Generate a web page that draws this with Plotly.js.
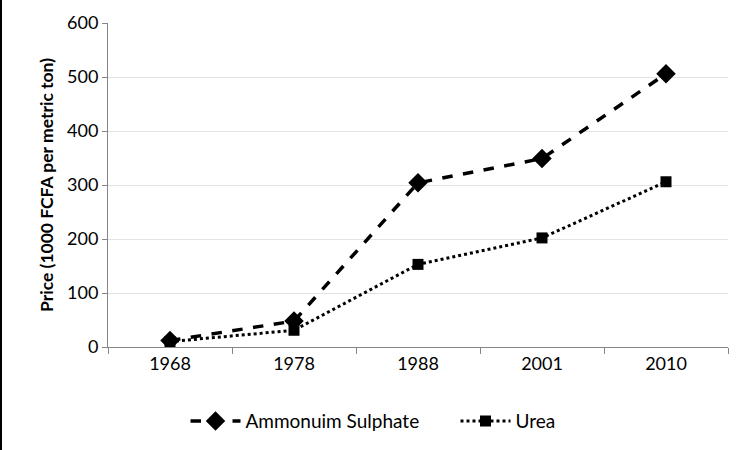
<!DOCTYPE html>
<html>
<head>
<meta charset="utf-8">
<script src="https://cdn.plot.ly/plotly-3.0.1.min.js"></script>
<style>
  body { margin: 0; background: #fff; }
  #chart { width: 751px; height: 450px; }
  #edge { position: absolute; left: 0; top: 0; width: 2px; height: 450px; background: #000; }
</style>
</head>
<body>
<div id="chart"></div>
<div id="edge"></div>
<script>
// fertiliser prices, 1000 FCFA per metric ton
const years = ["1968", "1978", "1988", "2001", "2010"];
const ammoniumSulphate = [12, 48, 304, 349, 506];
const urea = [10, 31, 153, 202, 306];
const yTicks = [0, 100, 200, 300, 400, 500, 600];

const data = [
  {
    x: years,
    y: ammoniumSulphate,
    name: "Ammonuim Sulphate",
    mode: "lines+markers",
    line: {color: "#000", width: 3.5, dash: "dash"},
    marker: {symbol: "diamond", size: 15, color: "#000"}
  },
  {
    x: years,
    y: urea,
    name: "Urea",
    mode: "lines+markers",
    line: {color: "#000", width: 3, dash: "dot"},
    marker: {symbol: "square", size: 11, color: "#000"}
  }
];

const layout = {
  width: 751,
  height: 450,
  margin: {l: 108, r: 23, t: 23, b: 103, autoexpand: false},
  paper_bgcolor: "#fff",
  plot_bgcolor: "#fff",
  font: {family: "Lato, 'Open Sans', sans-serif", color: "#000", size: 18},
  showlegend: true,
  legend: {
    orientation: "h",
    x: 0.125, xanchor: "left",
    y: -0.17, yanchor: "top",
    font: {size: 19},
    itemwidth: 50,
    entrywidth: 205
  },
  xaxis: {
    type: "category",
    range: [-0.5, 4.5],
    showline: true,
    linecolor: "#868686",
    linewidth: 1,
    ticks: "outside",
    tickson: "boundaries",
    ticklen: 6,
    tickcolor: "#868686",
    showgrid: false,
    zeroline: false,
    tickfont: {size: 18}
  },
  yaxis: {
    range: [0, 600],
    tickvals: yTicks,
    showline: true,
    linecolor: "#868686",
    ticks: "outside",
    ticklen: 5,
    tickcolor: "#868686",
    gridcolor: "#e3e3e3",
    zeroline: false,
    tickfont: {size: 18},
    title: {
      text: "<b>Price (1000 FCFA per metric ton)</b>",
      font: {size: 17.5},
      standoff: 8
    }
  }
};

Plotly.newPlot("chart", data, layout, {displayModeBar: false, staticPlot: true});
</script>
</body>
</html>
